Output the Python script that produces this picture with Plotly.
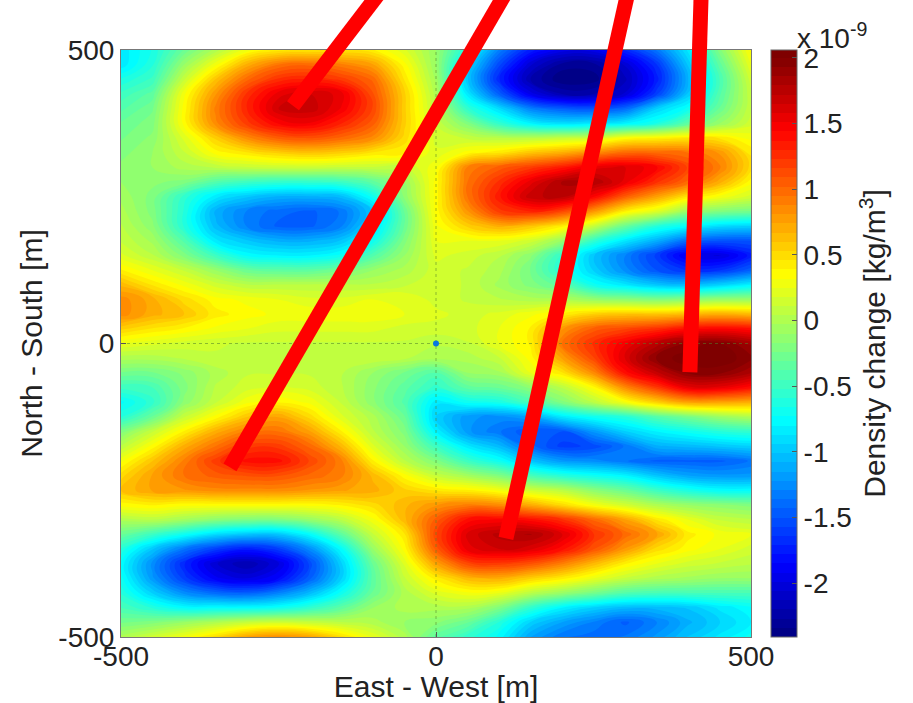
import plotly.graph_objects as go

x_m = list(range(-500, 501, 50))
y_m = list(range(500, -501, -25))

# In units of 1e-9 kg/m3. One row per y value, from y=500 down.
density_west = [  # x = -500 ... 0
    [-0.85,-0.65,-0.30,0.00,0.30,0.42,0.45,0.45,0.40,0.20,-0.10],
    [-0.85,-0.60,-0.10,0.30,0.70,0.95,1.00,0.90,0.75,0.35,-0.10],
    [-0.65,-0.50,0.10,0.60,1.00,1.25,1.30,1.20,1.00,0.45,-0.05],
    [-0.50,-0.35,0.30,0.80,1.25,1.55,1.65,1.55,1.10,0.55,0.00],
    [-0.40,-0.25,0.35,0.90,1.30,1.65,1.70,1.50,1.15,0.55,0.05],
    [-0.30,-0.20,0.35,0.85,1.20,1.45,1.50,1.30,1.05,0.55,0.10],
    [-0.25,-0.15,0.20,0.55,0.85,1.05,1.10,1.00,0.85,0.50,0.15],
    [-0.20,-0.10,0.10,0.35,0.45,0.55,0.60,0.55,0.45,0.40,0.20],
    [-0.15,-0.10,0.00,0.05,0.10,0.12,0.12,0.10,0.10,0.10,0.30],
    [-0.10,-0.15,-0.20,-0.40,-0.50,-0.55,-0.55,-0.50,-0.35,-0.10,0.35],
    [-0.05,-0.20,-0.55,-0.85,-1.00,-1.10,-1.10,-1.05,-0.70,-0.15,0.35],
    [0.00,-0.20,-0.60,-1.10,-1.30,-1.40,-1.45,-1.35,-1.00,-0.30,0.35],
    [0.05,-0.15,-0.60,-1.05,-1.30,-1.45,-1.45,-1.30,-0.90,-0.30,0.30],
    [0.10,-0.05,-0.40,-0.85,-1.00,-1.10,-1.10,-1.00,-0.70,-0.20,0.25],
    [0.20,0.05,-0.20,-0.50,-0.75,-0.80,-0.80,-0.70,-0.40,-0.10,0.20],
    [0.40,0.25,0.10,-0.10,-0.30,-0.35,-0.35,-0.25,-0.10,0.00,0.15],
    [0.65,0.45,0.30,0.15,0.05,0.05,0.05,0.05,0.05,0.10,0.15],
    [0.85,0.70,0.50,0.35,0.30,0.25,0.20,0.20,0.25,0.25,0.15],
    [0.85,0.70,0.60,0.42,0.35,0.30,0.30,0.30,0.30,0.25,0.20],
    [0.55,0.45,0.38,0.30,0.25,0.20,0.20,0.20,0.20,0.15,0.15],
    [0.25,0.20,0.15,0.12,0.10,0.10,0.10,0.10,0.10,0.10,0.05],
    [0.00,0.00,0.05,0.10,0.10,0.10,0.10,0.10,0.10,0.05,0.00],
    [-0.25,-0.25,-0.15,0.00,0.10,0.10,0.10,0.05,-0.10,-0.25,-0.40],
    [-0.50,-0.45,-0.20,0.05,0.15,0.20,0.15,0.05,-0.15,-0.35,-0.55],
    [-0.75,-0.55,-0.15,0.10,0.30,0.38,0.30,0.10,-0.15,-0.40,-0.85],
    [-0.60,-0.30,0.10,0.35,0.60,0.75,0.50,0.20,0.00,-0.30,-0.95],
    [-0.20,0.10,0.40,0.70,0.90,0.95,0.75,0.40,0.05,-0.20,-0.80],
    [0.05,0.35,0.70,0.95,1.20,1.20,1.00,0.65,0.20,-0.10,-0.50],
    [0.30,0.60,0.90,1.20,1.40,1.40,1.15,0.90,0.40,0.05,-0.20],
    [0.50,0.75,0.95,1.05,1.10,1.10,1.00,0.90,0.65,0.35,0.10],
    [0.60,0.75,0.80,0.85,0.85,0.85,0.80,0.75,0.70,0.55,0.45],
    [0.35,0.40,0.35,0.35,0.35,0.35,0.35,0.40,0.50,0.65,0.80],
    [0.00,0.05,-0.05,-0.15,-0.20,-0.20,-0.10,0.05,0.30,0.65,1.05],
    [-0.30,-0.50,-0.70,-0.90,-1.00,-1.00,-0.75,-0.35,0.10,0.45,1.15],
    [-0.60,-1.00,-1.35,-1.60,-1.75,-1.60,-1.25,-0.75,-0.10,0.35,1.05],
    [-0.75,-1.25,-1.70,-2.05,-2.20,-2.00,-1.55,-0.95,-0.30,0.20,0.75],
    [-0.70,-1.20,-1.60,-1.90,-2.00,-1.85,-1.45,-0.95,-0.35,0.10,0.42],
    [-0.60,-0.95,-1.25,-1.40,-1.45,-1.30,-1.05,-0.70,-0.30,0.00,0.20],
    [-0.45,-0.60,-0.75,-0.75,-0.75,-0.70,-0.55,-0.35,-0.10,0.00,0.00],
    [-0.25,-0.20,-0.10,0.00,0.10,0.15,0.10,0.05,0.00,-0.10,-0.15],
    [0.00,0.15,0.30,0.50,0.75,0.85,0.75,0.50,0.25,0.00,-0.35],
]
density_east = [  # x = 50 ... 500
    [-0.65,-1.30,-1.75,-1.95,-1.95,-1.70,-1.35,-0.85,-0.20,0.35],
    [-0.90,-1.55,-2.05,-2.30,-2.30,-2.05,-1.65,-1.00,-0.35,0.25],
    [-1.00,-1.70,-2.20,-2.40,-2.38,-2.15,-1.75,-1.10,-0.45,0.15],
    [-0.85,-1.45,-1.95,-2.20,-2.20,-2.05,-1.60,-1.00,-0.40,0.10],
    [-0.55,-0.90,-1.30,-1.45,-1.50,-1.40,-0.95,-0.70,-0.30,0.10],
    [-0.20,-0.55,-0.80,-0.90,-0.85,-0.80,-0.65,-0.35,-0.10,0.15],
    [0.10,0.05,0.05,0.10,0.15,0.35,0.40,0.45,0.45,0.30],
    [0.35,0.45,0.60,0.70,0.85,1.00,1.00,0.95,0.80,0.45],
    [0.90,1.05,1.20,1.35,1.55,1.60,1.45,1.15,0.90,0.50],
    [0.95,1.25,1.55,1.80,1.80,1.55,1.25,1.00,0.70,0.35],
    [0.95,1.35,1.70,1.75,1.45,1.05,0.75,0.45,0.30,0.15],
    [0.80,1.20,1.30,1.15,0.80,0.40,0.20,-0.10,-0.20,-0.25],
    [0.55,0.70,0.60,0.42,0.10,-0.30,-0.60,-0.75,-0.90,-0.95],
    [0.25,0.25,0.15,-0.10,-0.55,-0.85,-1.10,-1.40,-1.50,-1.50],
    [0.15,0.05,-0.15,-0.55,-1.00,-1.30,-1.60,-1.95,-2.00,-1.75],
    [0.10,0.00,-0.25,-0.60,-0.95,-1.25,-1.50,-1.65,-1.65,-1.45],
    [0.10,-0.05,-0.20,-0.35,-0.70,-0.85,-1.00,-1.05,-0.95,-0.80],
    [0.10,0.05,0.00,0.00,-0.10,-0.15,-0.20,-0.15,-0.10,-0.10],
    [0.15,0.20,0.30,0.40,0.55,0.60,0.60,0.65,0.70,0.65],
    [0.15,0.25,0.40,0.80,1.05,1.15,1.25,1.40,1.45,1.40],
    [0.10,0.25,0.40,0.95,1.25,1.50,1.75,1.95,2.00,1.85],
    [0.00,0.10,0.35,0.75,1.15,1.60,1.95,2.05,2.06,1.95],
    [-0.10,-0.05,0.25,0.45,0.85,1.40,1.70,1.95,1.95,1.80],
    [-0.35,-0.30,-0.15,0.05,0.35,0.85,1.20,1.55,1.55,1.40],
    [-0.70,-0.65,-0.45,-0.20,0.05,0.30,0.55,0.75,0.75,0.70],
    [-1.20,-1.25,-1.15,-0.85,-0.70,-0.60,-0.40,-0.25,-0.10,0.00],
    [-1.20,-1.35,-1.50,-1.50,-1.20,-0.95,-0.80,-0.70,-0.60,-0.55],
    [-0.85,-1.05,-1.40,-1.60,-1.55,-1.35,-1.10,-1.05,-1.00,-0.95],
    [-0.50,-0.70,-1.00,-1.20,-1.25,-1.35,-1.45,-1.45,-1.45,-1.35],
    [-0.05,-0.20,-0.45,-0.60,-0.70,-0.80,-1.00,-1.15,-1.20,-1.20],
    [0.40,0.30,0.15,0.05,-0.15,-0.30,-0.50,-0.65,-0.75,-0.75],
    [0.90,0.85,0.70,0.50,0.30,0.15,0.00,-0.10,-0.15,-0.20],
    [1.40,1.45,1.40,1.25,1.00,0.75,0.45,0.25,0.10,0.05],
    [1.60,1.75,1.80,1.60,1.25,1.00,0.75,0.42,0.30,0.25],
    [1.55,1.65,1.60,1.40,1.10,0.80,0.50,0.35,0.25,0.15],
    [1.15,1.20,1.10,0.90,0.65,0.40,0.25,0.15,0.10,0.05],
    [0.65,0.70,0.55,0.42,0.25,0.10,0.00,-0.05,-0.10,-0.10],
    [0.30,0.25,0.05,-0.10,-0.25,-0.40,-0.45,-0.45,-0.45,-0.45],
    [0.00,-0.20,-0.55,-0.80,-0.95,-1.05,-1.05,-1.00,-0.85,-0.75],
    [-0.30,-0.60,-0.95,-1.15,-1.30,-1.45,-1.30,-1.10,-0.95,-0.80],
    [-0.55,-0.75,-1.15,-1.35,-1.40,-1.35,-1.20,-1.00,-0.85,-0.70],
]
density_change = [w + e for w, e in zip(density_west, density_east)]

axis_ticks = [-500, 0, 500]
colorbar_ticks = [-2, -1.5, -1, -0.5, 0, 0.5, 1, 1.5, 2]
colorbar_labels = ["-2", "-1.5", "-1", "-0.5", "0", "0.5", "1", "1.5", "2"]

cable_east = [[-227, -88], [-327, 112], [111, 305], [403, 421]]
cable_north = [[405, 600], [-211, 600], [-332, 600], [-49, 600]]

axis_x = [-500, 500]
axis_zero = [0, 0]
source_x = [0]
source_y = [0]

FONT = "Liberation Sans, Arial, sans-serif"
TEXT = "#222222"
FS = 28
FS_TITLE = 30
H = 703
TOP = 50      # top edge of the map in the page
BOTTOM = 66   # space below the map
AREA = H - BOTTOM
MAP_FRAC = (AREA - TOP) / AREA
jet = [[0, "#00007f"], [0.125, "#0000ff"], [0.375, "#00ffff"],
       [0.625, "#ffff00"], [0.875, "#ff0000"], [1, "#7f0000"]]

fig = go.Figure()
fig.add_trace(go.Contour(
    x=x_m, y=y_m, z=density_change, colorscale=jet, zauto=False, zmin=-2.41, zmax=2.06,
    contours=dict(coloring="fill", showlines=False, start=-2.41, end=2.06, size=0.07),
    line=dict(width=0, smoothing=1.3),
    colorbar=dict(
        x=1.0317, xanchor="left", xpad=0, y=0, yanchor="bottom", ypad=0,
        len=MAP_FRAC, lenmode="fraction", thickness=26, thicknessmode="pixels",
        outlinecolor="#666666", outlinewidth=1,
        tickmode="array", tickvals=colorbar_ticks, ticktext=colorbar_labels,
        ticks="inside", ticklen=5, tickcolor="#555555",
        tickfont=dict(family=FONT, size=FS, color=TEXT),
        title=dict(text="Density change [kg/m<sup>3</sup>]", side="right",
                   font=dict(family=FONT, size=FS_TITLE, color=TEXT)),
    ),
    hoverinfo="skip",
))
line_dash = dict(color="rgba(80,130,40,0.55)", width=1, dash="dot")
fig.add_trace(go.Scatter(x=axis_x, y=axis_zero, mode="lines", line=line_dash, hoverinfo="skip"))
fig.add_trace(go.Scatter(x=axis_zero, y=axis_x, mode="lines", line=line_dash, hoverinfo="skip"))
fig.add_trace(go.Scatter(x=source_x, y=source_y, mode="markers",
                         marker=dict(color="#0a78e0", size=6), hoverinfo="skip"))
for ex, ny in zip(cable_east, cable_north):
    fig.add_trace(go.Scatter(x=ex, y=ny, mode="lines", yaxis="y2",
                             line=dict(color="#ff0000", width=15), hoverinfo="skip"))

axis_common = dict(
    tickmode="array", tickvals=axis_ticks, ticktext=[str(v) for v in axis_ticks],
    range=[-500, 500], showgrid=False, zeroline=False, ticks="inside", ticklen=5,
    tickcolor="#555555", showline=True, linecolor="#777777", linewidth=1, mirror=True,
    tickfont=dict(family=FONT, size=FS, color=TEXT),
)
fig.update_layout(
    width=913, height=H, margin=dict(l=121, r=162, t=0, b=BOTTOM, autoexpand=False),
    paper_bgcolor="white", plot_bgcolor="rgba(0,0,0,0)", showlegend=False,
    font=dict(family=FONT, size=FS, color=TEXT),
    xaxis=dict(axis_common, ticklabelstandoff=-6,
               title=dict(text="East - West [m]", standoff=0,
                          font=dict(family=FONT, size=FS_TITLE, color=TEXT))),
    yaxis=dict(axis_common, domain=[0, MAP_FRAC],
               title=dict(text="North - South [m]", standoff=6,
                          font=dict(family=FONT, size=FS_TITLE, color=TEXT))),
    yaxis2=dict(domain=[0, 1], range=[-500, -500 + 1000 / MAP_FRAC], visible=False, anchor="x"),
    annotations=[dict(text="x 10<sup>-9</sup>", xref="paper", yref="paper", x=1.07,
                      y=MAP_FRAC, xanchor="left", yanchor="bottom", showarrow=False,
                      yshift=-6, font=dict(family=FONT, size=FS, color=TEXT))],
)
fig.write_html("out.html", config=dict(displayModeBar=False),
               post_script="document.body.style.margin='0';")
